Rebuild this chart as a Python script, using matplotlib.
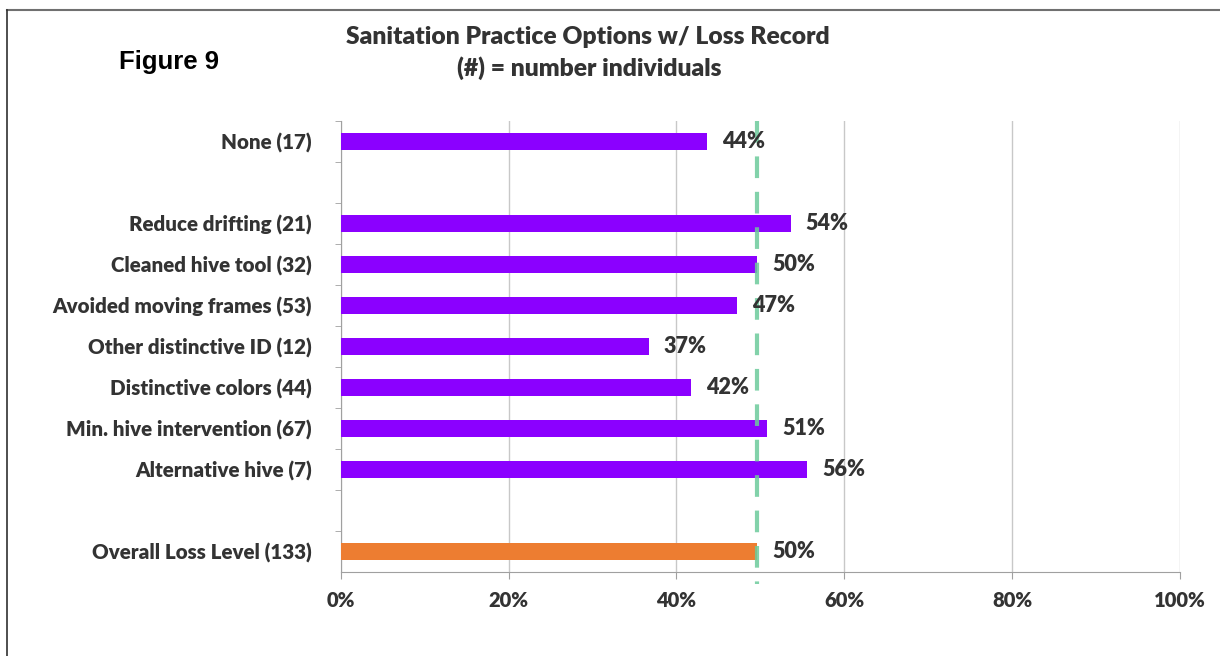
import matplotlib.pyplot as plt
from matplotlib.lines import Line2D

# categories top to bottom; blank entries leave a gap row
categories = ['None (17)', '',
              'Reduce drifting (21)', 'Cleaned hive tool (32)',
              'Avoided moving frames (53)', 'Other distinctive ID (12)',
              'Distinctive colors (44)', 'Min. hive intervention (67)',
              'Alternative hive (7)', '',
              'Overall Loss Level (133)']
loss_pct = [43.6, None,
            53.6, 49.6,
            47.2, 36.7,
            41.7, 50.8,
            55.6, None,
            49.6]
overall_loss = 49.6

purple = '#8B00FF'
orange = '#ED7D31'
text_col = '#333333'
font = 'Lato'

fig = plt.figure(figsize=(12.2, 6.56), dpi=100)
ax = fig.add_axes([0.2795, 0.128, 0.6875, 0.6875])

ypos = list(range(len(categories)))
for y, name, val in zip(ypos, categories, loss_pct):
    if val is None:
        continue
    col = orange if name.startswith('Overall') else purple
    ax.barh(y, val, height=0.4, color=col, zorder=3)
    ax.text(val + 1.8, y, '%d%%' % round(val), va='center', ha='left',
            fontsize=15.5, fontweight='heavy', color=text_col,
            family=font, zorder=5)

ax.set_ylim(len(categories) - 0.5, -0.5)
ax.set_xlim(0, 100)
ax.set_yticks(ypos)
ax.set_yticklabels(categories, fontsize=14.8, fontweight='heavy',
                   color=text_col, family=font)
ax.tick_params(axis='y', length=0, pad=21)
# small tick marks between rows
ax.set_yticks([y + 0.5 for y in ypos[:-1]] + [-0.5], minor=True)
ax.tick_params(axis='y', which='minor', length=4, color='#a0a0a0')

ax.set_xticks(range(0, 101, 20))
ax.set_xticklabels(['%d%%' % v for v in range(0, 101, 20)], fontsize=14.5,
                   fontweight='heavy', color=text_col, family=font)
ax.tick_params(axis='x', length=5, color='#a0a0a0', pad=9)
ax.grid(axis='x', color='#c8c8c8', linewidth=1, zorder=0)

for side in ['top', 'right']:
    ax.spines[side].set_visible(False)
for side in ['left', 'bottom']:
    ax.spines[side].set_color('#a0a0a0')

# dashed reference line at the overall loss level
ax.plot([overall_loss, overall_loss], [-0.5, len(categories) - 0.2],
        color='#6ccb9b', linewidth=3, dashes=(5.2, 3.3), clip_on=False,
        zorder=4, alpha=0.85)

fig.text(0.482, 0.944, 'Sanitation Practice Options w/ Loss Record',
         ha='center', va='center', fontsize=17.7, fontweight='heavy',
         color=text_col, family=font)
fig.text(0.483, 0.896, '(#) = number individuals',
         ha='center', va='center', fontsize=17.7, fontweight='heavy',
         color=text_col, family=font)
fig.text(0.1385, 0.905, 'Figure 9', ha='center', va='center',
         fontsize=18.5, fontweight='bold', family='Liberation Sans',
         color='black')

# frame lines along top and left edges
fig.add_artist(Line2D([0.006, 1.0], [0.985, 0.985], color='#707070',
                      linewidth=1.5, transform=fig.transFigure))
fig.add_artist(Line2D([0.006, 0.006], [0.0, 0.985], color='#303030',
                      linewidth=1.2, transform=fig.transFigure))

fig.savefig('out.png', dpi=100)
